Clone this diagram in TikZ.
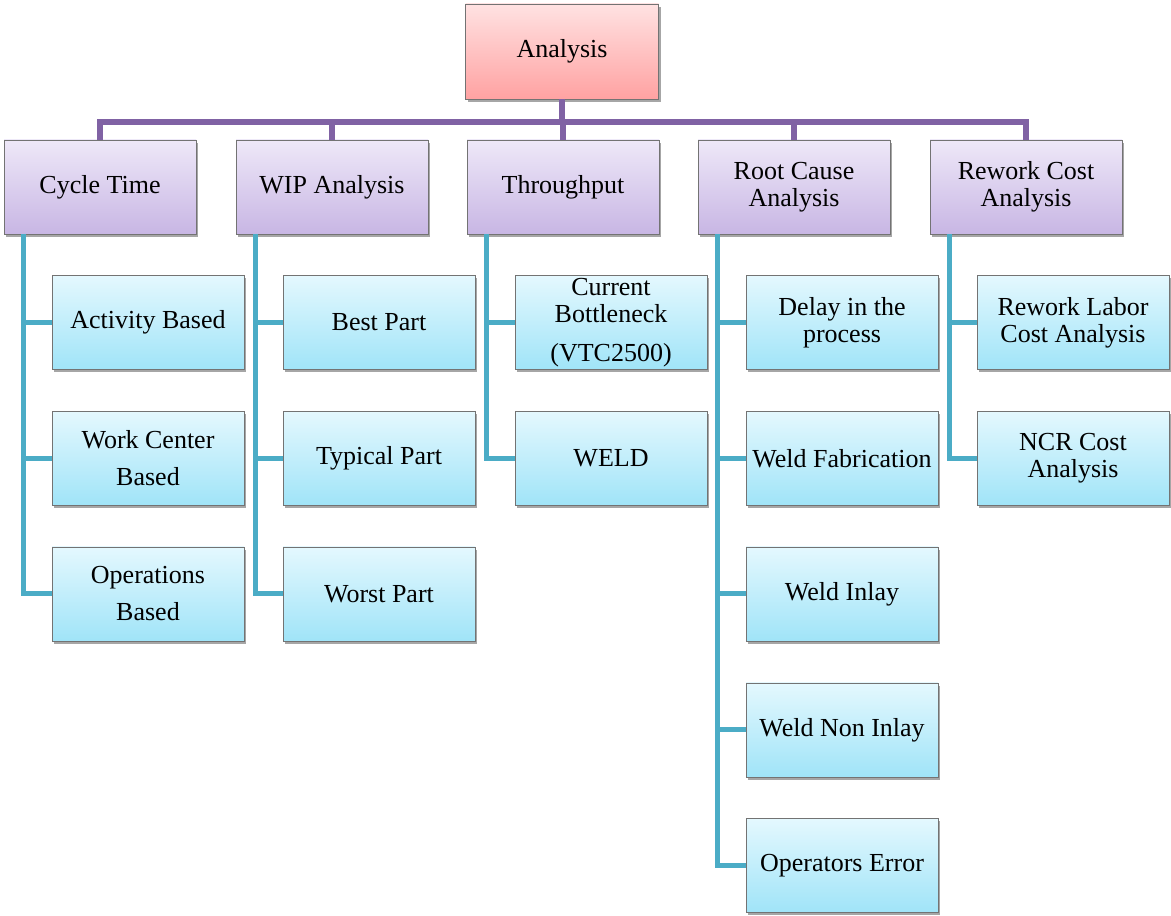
\documentclass[tikz,border=0pt]{standalone}
\usepackage{fontspec}
\setmainfont{Liberation Serif}
\usetikzlibrary{shadows,calc}
\definecolor{roottop}{RGB}{255,226,226}
\definecolor{rootbot}{RGB}{255,162,162}
\definecolor{headtop}{RGB}{238,232,248}
\definecolor{headbot}{RGB}{200,182,228}
\definecolor{itemtop}{RGB}{228,248,254}
\definecolor{itembot}{RGB}{160,228,248}
\definecolor{trunkcol}{RGB}{128,98,164}
\definecolor{branchcol}{RGB}{75,172,198}
\begin{document}
\begin{tikzpicture}[x=1pt,y=1pt,
  box/.style={draw=black!55, line width=0.8pt, minimum width=192pt, minimum height=94pt,
    inner sep=2pt, align=center, font=\fontsize{26}{27}\selectfont,
    drop shadow={shadow xshift=2pt, shadow yshift=-3pt, opacity=0.35, fill=black}},
  rootbox/.style={box, minimum width=193pt, minimum height=95pt, top color=roottop, bottom color=rootbot},
  headbox/.style={box, top color=headtop, bottom color=headbot},
  itembox/.style={box, top color=itemtop, bottom color=itembot},
  trunk/.style={draw=trunkcol, line width=6pt},
  branch/.style={draw=branchcol, line width=5pt}]
\useasboundingbox (0,0) rectangle (1171,916);

% root
\node[rootbox] (root) at (562,864.5) {Analysis};

% first level
\node[headbox] (c1) at (100,729) {Cycle Time};
\node[headbox] (c2) at (332,729) {WIP Analysis};
\node[headbox] (c3) at (563,729) {Throughput};
\node[headbox] (c4) at (794,729) {Root Cause\\Analysis};
\node[headbox] (c5) at (1026,729) {Rework Cost\\Analysis};

% second level
\node[itembox] (a1) at (148,593.5) {Activity Based};
\node[itembox] (a2) at (148,457.5) {Work Center\\[10pt]Based};
\node[itembox] (a3) at (148,322) {Operations\\[10pt]Based};

\node[itembox] (b1) at (379,593.5) {Best Part};
\node[itembox] (b2) at (379,457.5) {Typical Part};
\node[itembox] (b3) at (379,322) {Worst Part};

\node[itembox] (t1) at (611,593.5) {Current\\Bottleneck\\[12pt](VTC2500)};
\node[itembox] (t2) at (611,457.5) {WELD};

\node[itembox] (r1) at (842,593.5) {Delay in the\\process};
\node[itembox] (r2) at (842,457.5) {Weld Fabrication};
\node[itembox] (r3) at (842,322) {Weld Inlay};
\node[itembox] (r4) at (842,186) {Weld Non Inlay};
\node[itembox] (r5) at (842,50.5) {Operators Error};

\node[itembox] (w1) at (1073,593.5) {Rework Labor\\Cost Analysis};
\node[itembox] (w2) at (1073,457.5) {NCR Cost\\Analysis};

% trunk connectors
\foreach \c in {c1,c2,c3,c4,c5}
  \draw[trunk] (root.south) -- ++(0,-23) -| (\c.north);

% branch connectors
\foreach \p/\k in {c1/a1,c1/a2,c1/a3,c2/b1,c2/b2,c2/b3,c3/t1,c3/t2,
                   c4/r1,c4/r2,c4/r3,c4/r4,c4/r5,c5/w1,c5/w2}
  \draw[branch] ($(\p.south west)+(20,0)$) |- (\k.west);
\end{tikzpicture}
\end{document}
